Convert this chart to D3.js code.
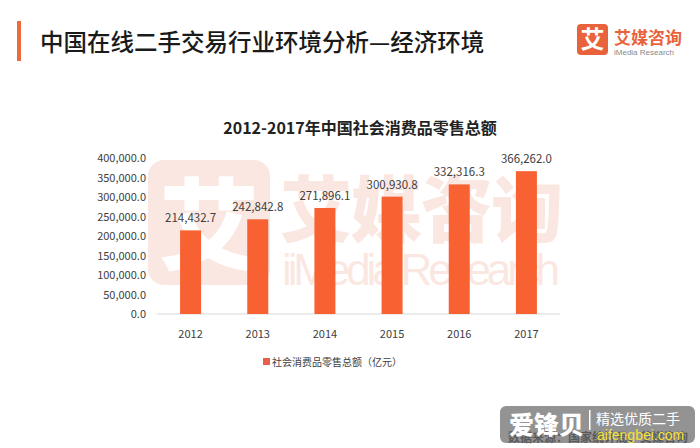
<!DOCTYPE html>
<html><head><meta charset="utf-8">
<script src="https://cdn.jsdelivr.net/npm/d3@7"></script>
<style>body{margin:0;background:#fff;}svg{display:block;}</style>
</head><body>
<svg id="c" width="700" height="448"></svg>
<script>
const categories = ["2012","2013","2014","2015","2016","2017"];
const values = [214432.7, 242842.8, 271896.1, 300930.8, 332316.3, 366262.0];
const yTicks = [0,50000,100000,150000,200000,250000,300000,350000,400000];
const seriesName = "社会消费品零售总额（亿元）";
const chartTitle = "2012-2017年中国社会消费品零售总额";
const pageTitle = "中国在线二手交易行业环境分析—经济环境";

const svg = d3.select("#c");
const font = "'Noto Sans CJK SC','Noto Sans',sans-serif";
const orange = "#f86232";

// header
svg.append("rect").attr("x",17).attr("y",21).attr("width",4).attr("height",40).attr("fill","#ee6a3f");
svg.append("text").attr("x",40).attr("y",51).attr("font-family",font).attr("font-size",23.5).attr("font-weight",500)
  .attr("fill","#1a1a1a").text(pageTitle);
// logo
svg.append("rect").attr("x",577).attr("y",24).attr("width",31).attr("height",31).attr("rx",4).attr("fill","#e8633b");
svg.append("text").attr("x",592.5).attr("y",48).attr("text-anchor","middle").attr("font-family",font).attr("font-size",24).attr("font-weight",700).attr("fill","#fff").text("艾");
svg.append("text").attr("x",614).attr("y",44).attr("font-family",font).attr("font-size",17).attr("font-weight",700).attr("fill","#e8633b").text("艾媒咨询");
svg.append("text").attr("x",614).attr("y",55).attr("font-family","'Liberation Sans',sans-serif").attr("font-size",8).attr("fill","#888").text("iMedia Research");

// watermark
const wm = svg.append("g").attr("opacity",0.15);
wm.append("rect").attr("x",148).attr("y",160).attr("width",122).attr("height",125).attr("rx",16).attr("fill","#e8633b");
wm.append("text").attr("x",209).attr("y",262).attr("text-anchor","middle").attr("font-family",font).attr("font-size",100).attr("font-weight",900).attr("fill","#fff").text("艾");
wm.append("text").attr("x",280).attr("y",236).attr("font-family",font).attr("font-size",72).attr("font-weight",900).attr("fill","#e8633b").attr("textLength",283).text("艾媒咨询");
wm.append("text").attr("x",282).attr("y",285).attr("font-family","'Liberation Sans',sans-serif").attr("font-size",44).attr("fill","#e8633b").attr("textLength",278).text("iiMedia Research");

// chart title
svg.append("text").attr("x",360).attr("y",134).attr("text-anchor","middle").attr("font-family",font).attr("font-size",16).attr("font-weight",700).attr("fill","#222").text(chartTitle);

const x = d3.scaleBand().domain(categories).range([157,560]).padding(0);
const y = d3.scaleLinear().domain([0,400000]).range([314,158]);
const barW = 21;

svg.append("line").attr("x1",157).attr("x2",560).attr("y1",y(0)).attr("y2",y(0)).attr("stroke","#d9d9d9").attr("stroke-width",1);

const fmt = d3.format(",.1f");
svg.append("g").selectAll("text").data(yTicks).join("text")
  .attr("x",146).attr("y",d=>y(d)+4).attr("text-anchor","end")
  .attr("font-family",font).attr("font-size",11).attr("fill","#404040").text(d=>fmt(d));

svg.append("g").selectAll("rect").data(values).join("rect")
  .attr("x",(d,i)=>x(categories[i])+x.bandwidth()/2-barW/2).attr("width",barW)
  .attr("y",d=>y(d)).attr("height",d=>y(0)-y(d)).attr("fill",orange);

svg.append("g").selectAll("text").data(values).join("text")
  .attr("x",(d,i)=>x(categories[i])+x.bandwidth()/2).attr("y",d=>y(d)-8).attr("text-anchor","middle")
  .attr("font-family",font).attr("font-size",11.5).attr("fill","#404040").text(d=>fmt(d));

svg.append("g").selectAll("text").data(categories).join("text")
  .attr("x",d=>x(d)+x.bandwidth()/2).attr("y",338).attr("text-anchor","middle")
  .attr("font-family",font).attr("font-size",11).attr("fill","#404040").text(d=>d);

// legend
svg.append("rect").attr("x",263).attr("y",358).attr("width",7).attr("height",7).attr("fill","#e8604a");
svg.append("text").attr("x",272).attr("y",366).attr("font-family",font).attr("font-size",10).attr("fill","#404040").text(seriesName);

// source + overlay
svg.append("text").attr("x",508).attr("y",442).attr("font-family",font).attr("font-size",12).attr("font-weight",700).attr("fill","#333").text("数据来源：国家统计局、艾媒咨询");
svg.append("rect").attr("x",500).attr("y",406).attr("width",195).attr("height",37).attr("rx",6).attr("fill","#6a6a6a").attr("opacity",0.72);
svg.append("text").attr("x",509).attr("y",434).attr("font-family",font).attr("font-size",25).attr("font-weight",900).attr("fill","#fff").text("爱锋贝");
svg.append("rect").attr("x",589).attr("y",410).attr("width",1.5).attr("height",20).attr("fill","#fff");
svg.append("text").attr("x",596).attr("y",424).attr("font-family",font).attr("font-size",14).attr("fill","#fff").text("精选优质二手");
svg.append("text").attr("x",597).attr("y",440).attr("font-family","'Liberation Sans',sans-serif").attr("font-size",14).attr("fill","#f3e23a").text("aifengbei.com");
</script>
</body></html>
